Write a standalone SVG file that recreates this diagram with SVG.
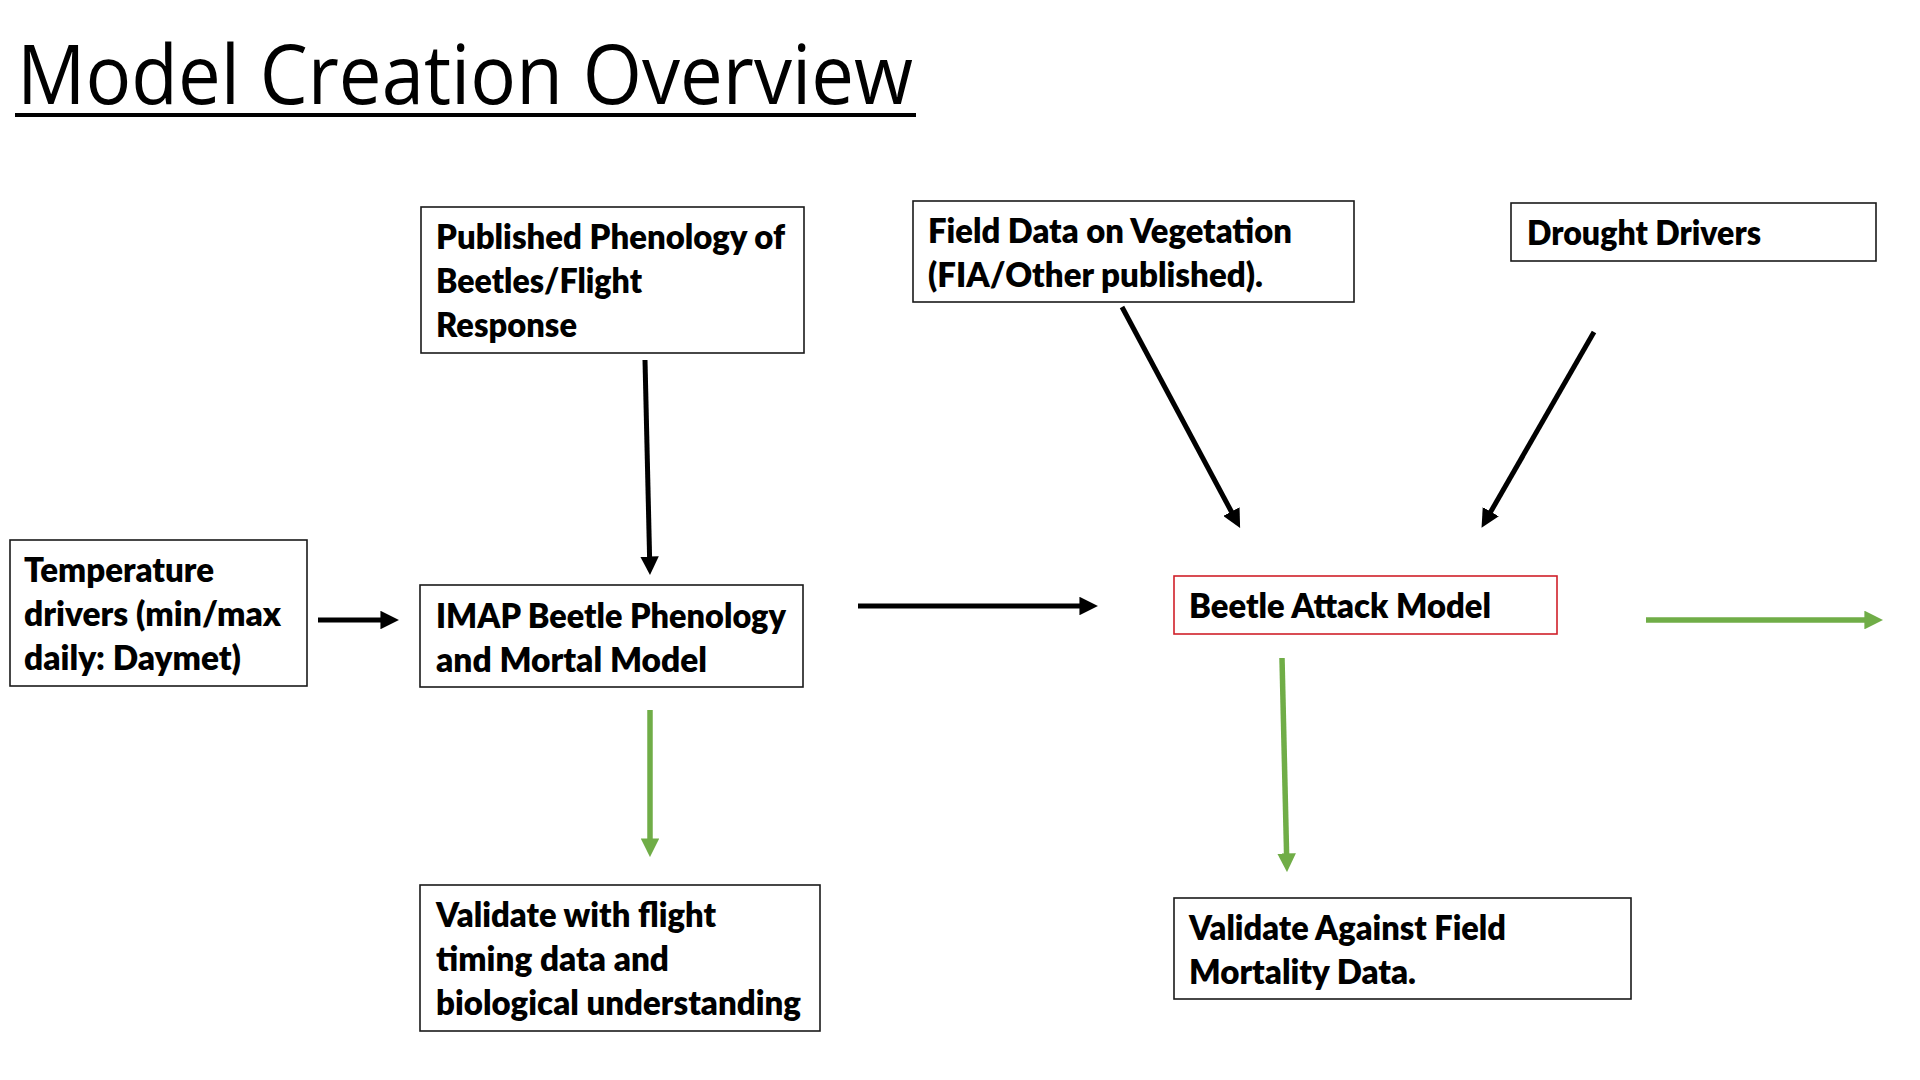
<svg xmlns="http://www.w3.org/2000/svg" width="1920" height="1080" viewBox="0 0 1920 1080">
<style>
.box{fill:#fff;stroke:#1a1a1a;stroke-width:1.6}
.red{fill:#fff;stroke:#d0202a;stroke-width:1.6}
.t{font-family:Lato,"Open Sans","Liberation Sans",sans-serif;font-weight:800;font-size:34px;fill:#000}
.title{font-family:"Open Sans",Lato,"Liberation Sans",sans-serif;font-weight:400;font-size:82px;fill:#000}
.blk{stroke:#000;stroke-width:5;fill:none;marker-end:url(#hb)}
.grn{stroke:#70ad47;stroke-width:5.5;fill:none;marker-end:url(#hg)}
</style>
<defs>
<marker id="hb" viewBox="0 0 10 10" refX="3" refY="5" markerWidth="3.7" markerHeight="3.7" orient="auto"><path d="M0,0 L10,5 L0,10 z" fill="#000"/></marker>
<marker id="hg" viewBox="0 0 10 10" refX="3" refY="5" markerWidth="3.4" markerHeight="3.4" orient="auto"><path d="M0,0 L10,5 L0,10 z" fill="#70ad47"/></marker>
</defs>
<rect width="1920" height="1080" fill="#fff"/>
<g id="title">
<text class="title" x="17" y="104" textLength="896" lengthAdjust="spacingAndGlyphs">Model Creation Overview</text>
<line x1="15" y1="115" x2="916" y2="115" stroke="#000" stroke-width="4"/>
</g>
<g id="connectors">
<line class="blk" x1="645" y1="360" x2="649.7" y2="562"/>
<line class="blk" x1="318" y1="620" x2="386" y2="620"/>
<line class="blk" x1="858" y1="606" x2="1085" y2="606"/>
<line class="blk" x1="1122" y1="307" x2="1234" y2="516.5"/>
<line class="blk" x1="1594" y1="332" x2="1488" y2="516.5"/>
<line class="grn" x1="650" y1="710" x2="650" y2="844"/>
<line class="grn" x1="1282" y1="658" x2="1286.7" y2="859"/>
<line class="grn" x1="1646" y1="620" x2="1870" y2="620"/>
</g>
<g id="published">
<rect class="box" x="421" y="207" width="383" height="146"/>
<text class="t" x="436" y="249" textLength="349" lengthAdjust="spacingAndGlyphs">Published Phenology of</text>
<text class="t" x="436" y="293" textLength="206" lengthAdjust="spacingAndGlyphs">Beetles/Flight</text>
<text class="t" x="436" y="337" textLength="141" lengthAdjust="spacingAndGlyphs">Response</text>
</g>
<g id="fielddata">
<rect class="box" x="913" y="201" width="441" height="101"/>
<text class="t" x="928" y="243" textLength="364" lengthAdjust="spacingAndGlyphs">Field Data on Vegetation</text>
<text class="t" x="928" y="287" textLength="335" lengthAdjust="spacingAndGlyphs">(FIA/Other published).</text>
</g>
<g id="drought">
<rect class="box" x="1511" y="203" width="365" height="58"/>
<text class="t" x="1527" y="245" textLength="234" lengthAdjust="spacingAndGlyphs">Drought Drivers</text>
</g>
<g id="temperature">
<rect class="box" x="10" y="540" width="297" height="146"/>
<text class="t" x="24" y="582" textLength="190" lengthAdjust="spacingAndGlyphs">Temperature</text>
<text class="t" x="24" y="626" textLength="257" lengthAdjust="spacingAndGlyphs">drivers (min/max</text>
<text class="t" x="24" y="670" textLength="217" lengthAdjust="spacingAndGlyphs">daily: Daymet)</text>
</g>
<g id="imap">
<rect class="box" x="420" y="585" width="383" height="102"/>
<text class="t" x="436" y="628" textLength="350" lengthAdjust="spacingAndGlyphs">IMAP Beetle Phenology</text>
<text class="t" x="436" y="672" textLength="271" lengthAdjust="spacingAndGlyphs">and Mortal Model</text>
</g>
<g id="attack">
<rect class="red" x="1174" y="576" width="383" height="58"/>
<text class="t" x="1189" y="618" textLength="302" lengthAdjust="spacingAndGlyphs">Beetle Attack Model</text>
</g>
<g id="validate-flight">
<rect class="box" x="420" y="885" width="400" height="146"/>
<text class="t" x="436" y="927" textLength="280" lengthAdjust="spacingAndGlyphs">Validate with flight</text>
<text class="t" x="436" y="971" textLength="233" lengthAdjust="spacingAndGlyphs">timing data and</text>
<text class="t" x="436" y="1015" textLength="365" lengthAdjust="spacingAndGlyphs">biological understanding</text>
</g>
<g id="validate-field">
<rect class="box" x="1174" y="898" width="457" height="101"/>
<text class="t" x="1189" y="940" textLength="317" lengthAdjust="spacingAndGlyphs">Validate Against Field</text>
<text class="t" x="1189" y="984" textLength="227" lengthAdjust="spacingAndGlyphs">Mortality Data.</text>
</g>
</svg>
